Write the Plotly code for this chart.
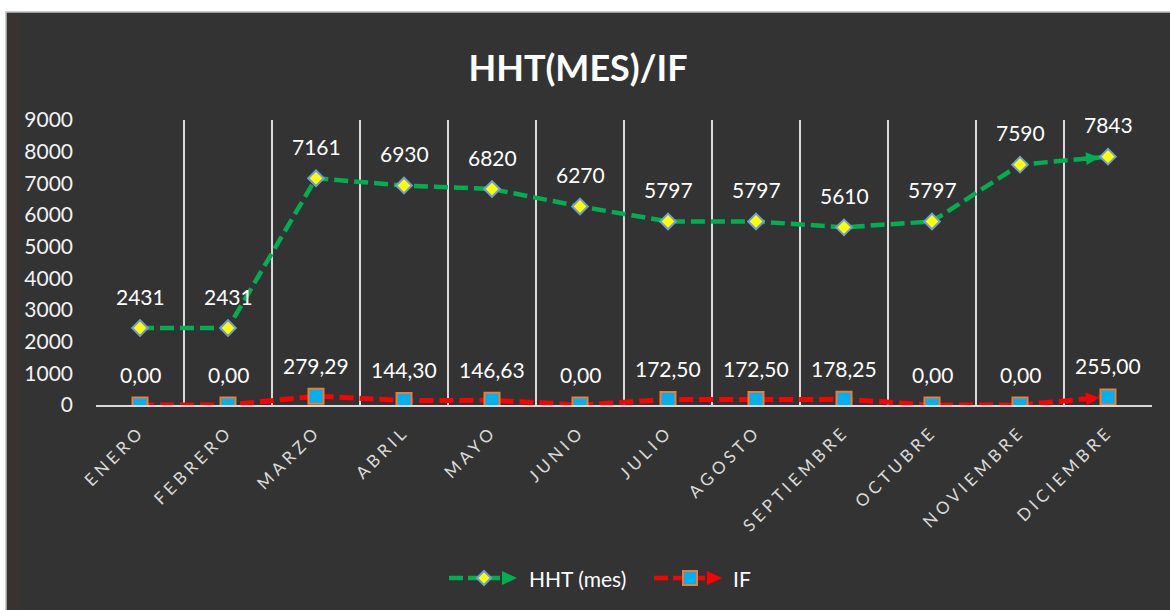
import plotly.graph_objects as go

# Monthly data
months = ["ENERO", "FEBRERO", "MARZO", "ABRIL", "MAYO", "JUNIO",
          "JULIO", "AGOSTO", "SEPTIEMBRE", "OCTUBRE", "NOVIEMBRE", "DICIEMBRE"]
hht = [2431, 2431, 7161, 6930, 6820, 6270, 5797, 5797, 5610, 5797, 7590, 7843]
if_vals = [0.00, 0.00, 279.29, 144.30, 146.63, 0.00, 172.50, 172.50, 178.25, 0.00, 0.00, 255.00]
y_ticks = [0, 1000, 2000, 3000, 4000, 5000, 6000, 7000, 8000, 9000]

FONT = "Lato"
W_PX, H_PX = 1170, 610
L, R, T, B = 96, 18, 120, 205
PW = W_PX - L - R
PH = H_PX - T - B

GREEN = "#00b050"
RED = "#ff0000"
BG = "#333333"


def px(x):
    return (x - L) / PW


def py(y):
    return (H_PX - B - y) / PH


def spaced(label):
    return '<span style="letter-spacing:4px">' + label + "</span>"


fig = go.Figure()

fig.add_trace(go.Scatter(
    x=months, y=hht, mode="lines+markers", name="HHT (mes)",
    line=dict(color=GREEN, width=4.5, dash="14px,6px"),
    marker=dict(symbol="diamond", size=12, color="#ffff00",
                line=dict(color="#6f9fcf", width=2)),
    showlegend=False,
))
fig.add_trace(go.Scatter(
    x=months, y=if_vals, mode="lines+markers", name="IF",
    line=dict(color=RED, width=5, dash="14px,6px"),
    marker=dict(symbol="square", size=15, color="#00b0f0",
                line=dict(color="#ed7d31", width=2)),
    showlegend=False,
))

annotations = []

# arrowheads at the end of each series, pointing at the last marker
for vals, col in ((hht, GREEN), (if_vals, RED)):
    annotations.append(dict(
        x=months[-1], y=vals[-1], ax=months[-2], ay=vals[-2],
        xref="x", yref="y", axref="x", ayref="y",
        text="", showarrow=True, arrowhead=2, arrowsize=0.65, arrowwidth=4,
        arrowcolor=col, standoff=9, startstandoff=66,
    ))

for m, v in zip(months, hht):
    annotations.append(dict(x=m, y=v, text=f"{v}", showarrow=False, yshift=32,
                            font=dict(family=FONT, size=21, color="#ffffff")))
for m, v in zip(months, if_vals):
    annotations.append(dict(x=m, y=v, text=f"{v:.2f}".replace(".", ","),
                            showarrow=False, yshift=31,
                            font=dict(family=FONT, size=21, color="#ffffff")))

# legend text
annotations.append(dict(xref="paper", yref="paper", x=px(527), y=py(578),
                        xanchor="left", yanchor="middle", showarrow=False,
                        text="HHT (mes)", font=dict(family=FONT, size=21, color="#ffffff")))
annotations.append(dict(xref="paper", yref="paper", x=px(731), y=py(578),
                        xanchor="left", yanchor="middle", showarrow=False,
                        text="IF", font=dict(family=FONT, size=21, color="#ffffff")))

shapes = [
    # chart panel
    dict(type="rect", xref="paper", yref="paper", layer="below",
         x0=px(6), x1=px(1180), y0=py(12), y1=py(620),
         fillcolor=BG, line=dict(color="#bfbfbf", width=1.5)),
    dict(type="rect", xref="paper", yref="paper", layer="below",
         x0=px(7), x1=px(21), y0=py(13), y1=py(620),
         fillcolor="#383331", line=dict(width=0)),
]


def legend_item(x_start, x_mid, x_end, color, symbol_path, fill, edge):
    yc = py(578)
    items = [
        dict(type="line", xref="paper", yref="paper",
             x0=px(x_start), x1=px(x_end), y0=yc, y1=yc,
             line=dict(color=color, width=4.5, dash="14px,5px")),
        dict(type="path", xref="paper", yref="paper",
             xsizemode="pixel", ysizemode="pixel",
             xanchor=px(x_mid), yanchor=yc, path=symbol_path,
             fillcolor=fill, line=dict(color=edge, width=2)),
        dict(type="path", xref="paper", yref="paper",
             xsizemode="pixel", ysizemode="pixel",
             xanchor=px(x_end + 2), yanchor=yc, path="M 0 -7 L 15 0 L 0 7 Z",
             fillcolor=color, line=dict(width=0)),
    ]
    return items


shapes += legend_item(449, 484, 500, GREEN, "M -7 0 L 0 7 L 7 0 L 0 -7 Z", "#ffff00", "#6f9fcf")
shapes += legend_item(654, 690, 705, RED, "M -7 -7 L 7 -7 L 7 7 L -7 7 Z", "#00b0f0", "#ed7d31")

fig.update_layout(
    width=W_PX, height=H_PX,
    margin=dict(l=L, r=R, t=T, b=B),
    paper_bgcolor="#ffffff",
    plot_bgcolor="rgba(0,0,0,0)",
    font=dict(family=FONT, color="#ffffff"),
    title=dict(text="<b>HHT(MES)/IF</b>", x=0.494, xanchor="center",
               y=1 - 68 / H_PX, yanchor="middle",
               font=dict(family=FONT, size=36, color="#ffffff")),
    showlegend=False,
    annotations=annotations,
    shapes=shapes,
)

fig.update_xaxes(
    type="category", categoryorder="array", categoryarray=months,
    range=[-0.5, len(months) - 0.5],
    tickmode="array", tickvals=months, ticktext=[spaced(m) for m in months],
    tickson="boundaries", ticks="",
    showgrid=True, gridcolor="#d9d9d9", gridwidth=2,
    showline=True, linecolor="#d9d9d9", linewidth=2,
    tickangle=-45, tickfont=dict(family=FONT, size=17, color="#d9d9d9"),
    ticklabelstandoff=8,
)
fig.update_yaxes(
    range=[0, 9000], tickmode="array", tickvals=y_ticks,
    showgrid=False, zeroline=False, showline=False, ticks="",
    tickfont=dict(family=FONT, size=21, color="#f2f2f2"),
    ticklabelstandoff=22,
)

fig.write_html("out.html")
